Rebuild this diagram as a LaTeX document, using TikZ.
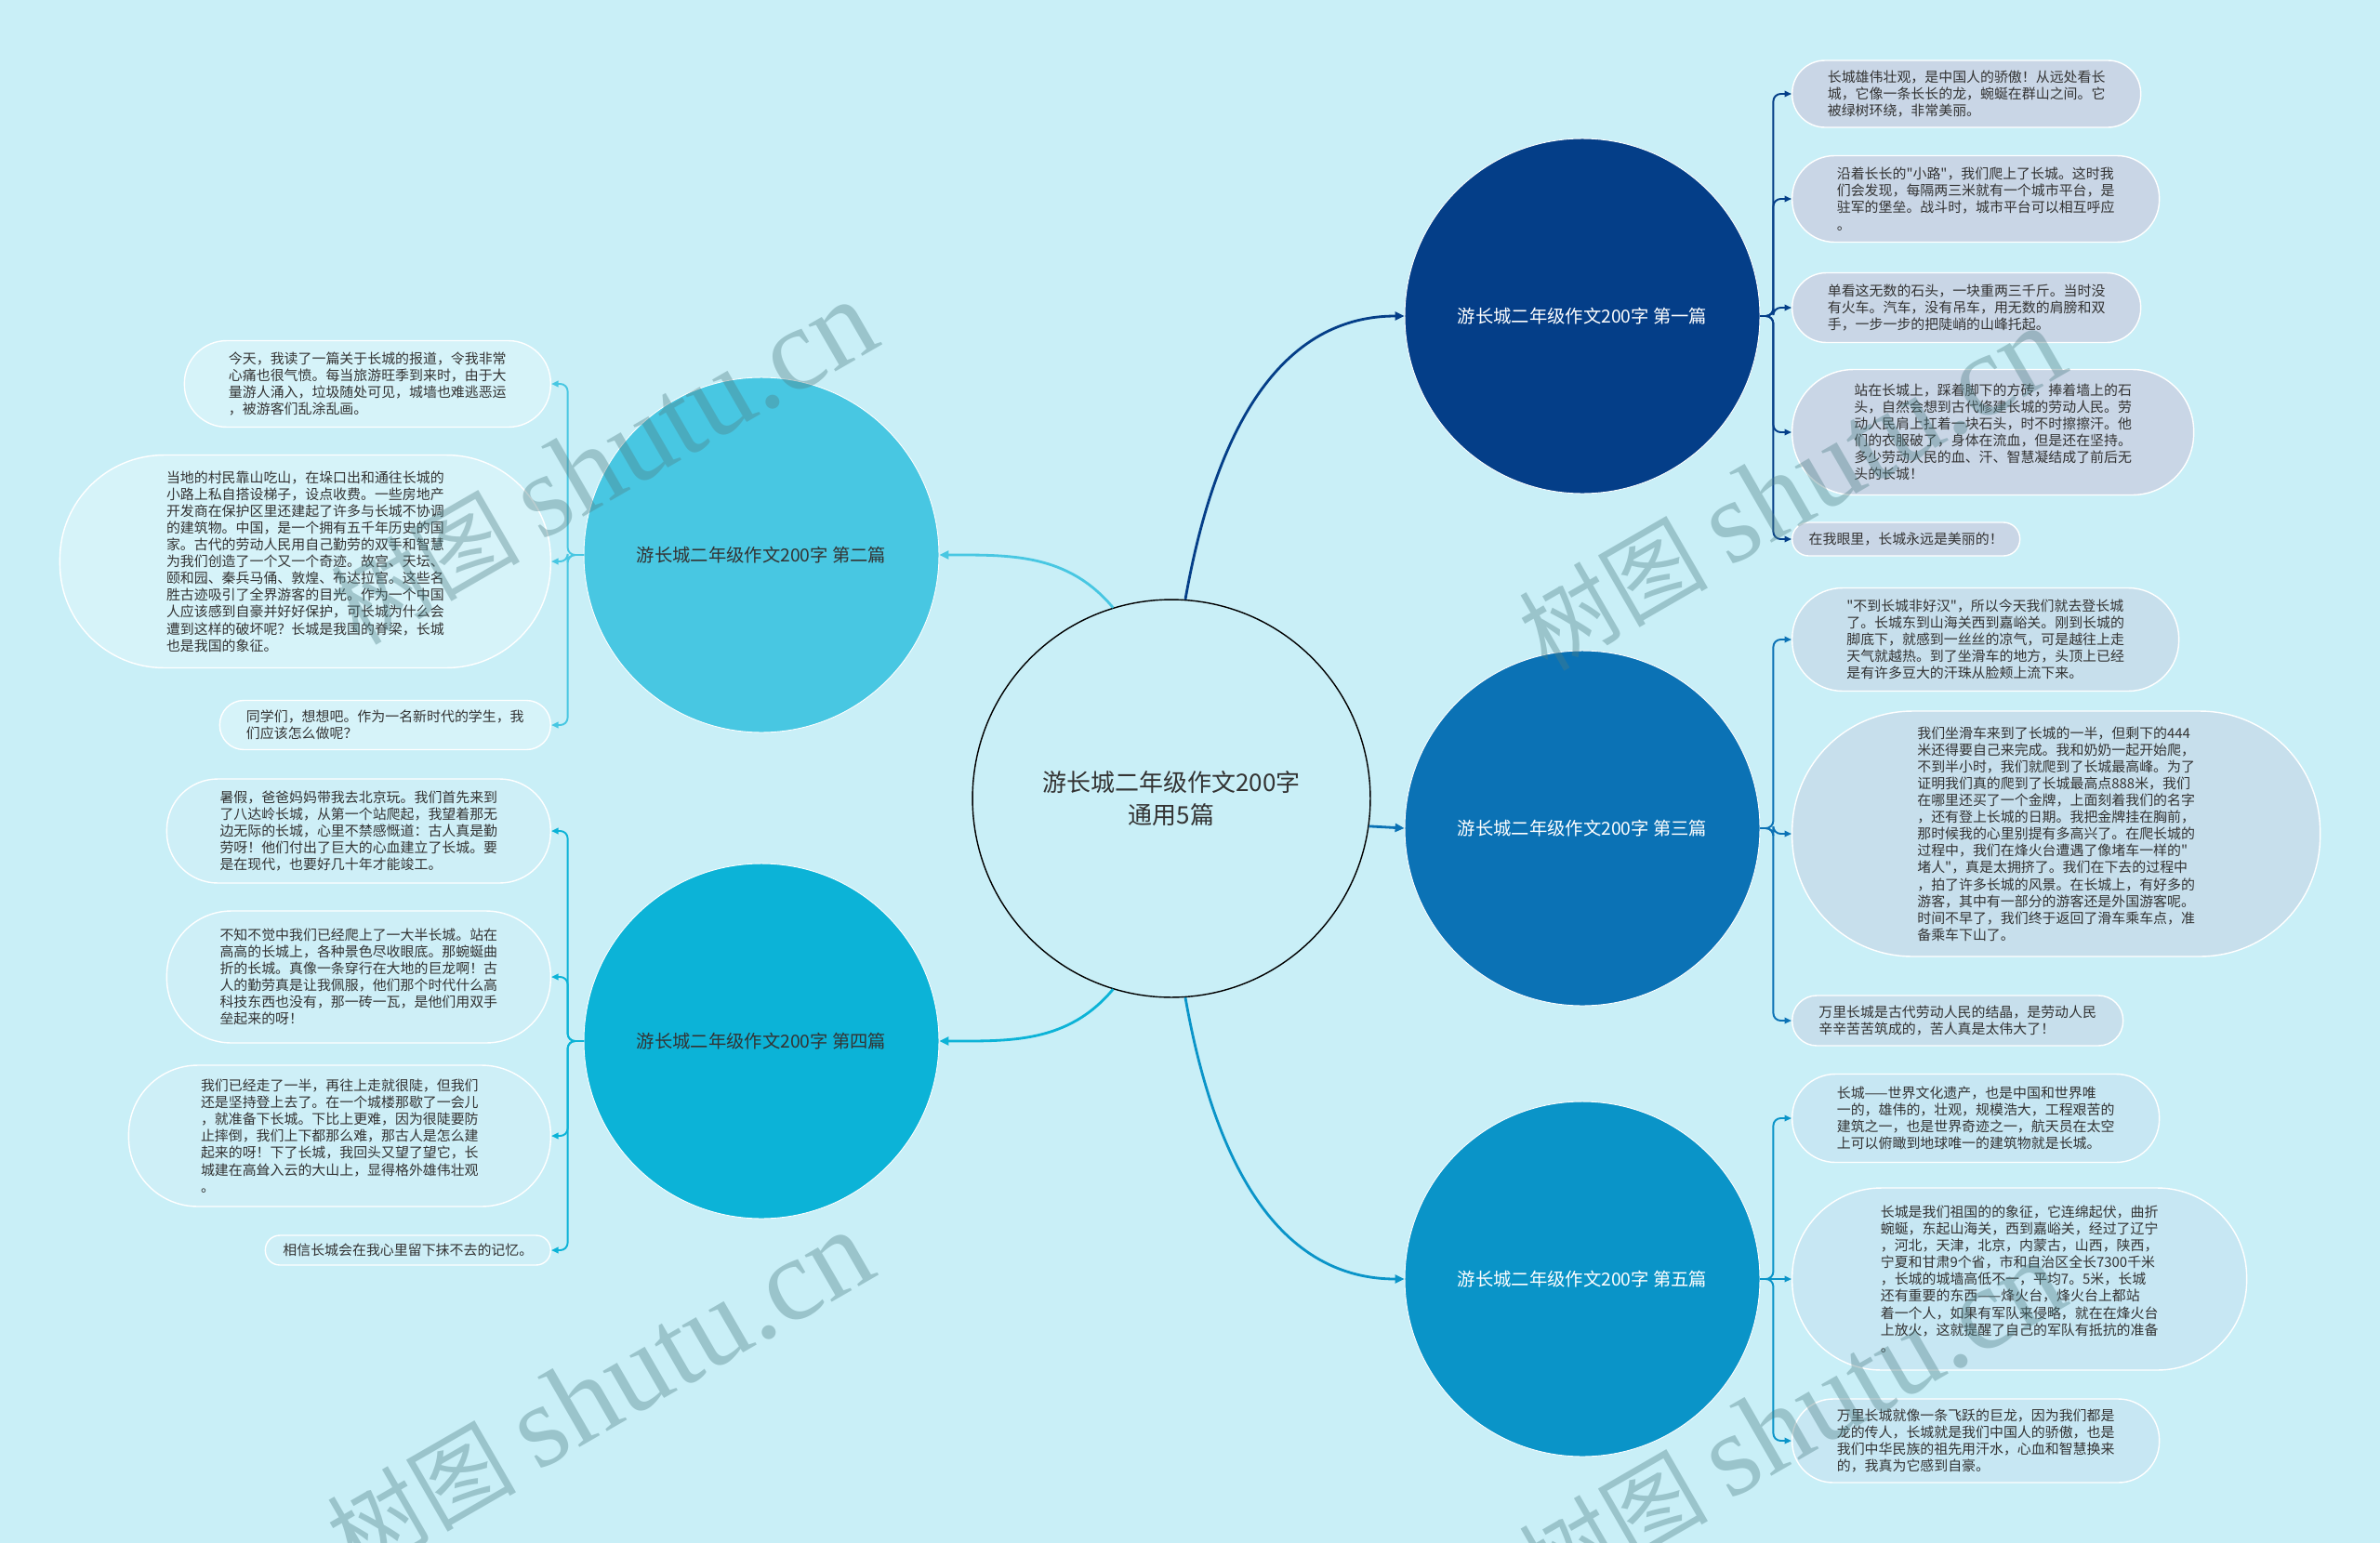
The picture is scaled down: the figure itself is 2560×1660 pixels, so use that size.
\documentclass[tikz,border=0pt]{standalone}
\usepackage{fontspec}
\setmainfont{Noto Sans CJK SC}[Ligatures=TeXOff]
\newfontfamily\wmlatin{Liberation Serif}
\usepackage{xcolor}
\definecolor{cBg}{HTML}{C9EFF7}
\definecolor{cText}{HTML}{333333}
\definecolor{cTopA}{HTML}{043E88}
\definecolor{cTopB}{HTML}{48C7E2}
\definecolor{cTopC}{HTML}{0B72B5}
\definecolor{cTopD}{HTML}{0CB3D7}
\definecolor{cTopE}{HTML}{0A94C8}
\definecolor{cLeafA}{HTML}{C9D6E6}
\definecolor{cLeafB}{HTML}{D6F3F9}
\definecolor{cLeafC}{HTML}{C7DFEC}
\definecolor{cLeafD}{HTML}{CEEFF7}
\definecolor{cLeafE}{HTML}{C7E7F3}
\definecolor{cMark}{HTML}{4F7F85}
\usepackage{tikz}
\usetikzlibrary{positioning,arrows.meta}
\tikzset{
  node-root/.style={circle,draw=black,line width=0.8pt,fill=cBg,minimum size=8.56cm,
    align=center,text=cText,font=\fontsize{14.8}{19.5}\selectfont},
  node-topic/.style={circle,draw=white,line width=0.5pt,minimum size=7.64cm,
    align=center,font=\fontsize{11}{13}\selectfont},
  % 叶子: 宽, 高 (cm), 两端做成半圆
  node-leaf/.style 2 args={draw=white,line width=0.8pt,inner sep=0pt,align=left,
    minimum width=#1cm,minimum height=#2cm,rounded corners=#2*0.49cm,
    text=cText,font=\fontsize{8.5}{10.3}\selectfont},
  arrow/.style={-{Triangle[length=2mm,width=1.8mm]},line width=1.6pt},
  arrow-leaf/.style={-{Triangle[length=1.5mm,width=1.3mm]},line width=1.1pt,
    rounded corners=1.6mm},
  watermark/.style={text=cMark,opacity=0.38,rotate=30,font=\fontsize{58}{58}\selectfont},
}

\begin{document}
\begin{tikzpicture}[x=0.02cm,y=-0.02cm]
  \fill[cBg] (0,0) rectangle (2560,1660);
  \useasboundingbox (0,0) rectangle (2560,1660);

  \node[node-root] (c0) at (1260,859) {游长城二年级作文200字\\通用5篇};
  \node[node-topic,fill=cTopA,text=white] (c1) at (1702,340) {游长城二年级作文200字 第一篇};
  \node[node-topic,fill=cTopB,text=cText] (c2) at (819,597) {游长城二年级作文200字 第二篇};
  \node[node-topic,fill=cTopC,text=white] (c3) at (1702,891) {游长城二年级作文200字 第三篇};
  \node[node-topic,fill=cTopD,text=cText] (c4) at (819,1120) {游长城二年级作文200字 第四篇};
  \node[node-topic,fill=cTopE,text=white] (c5) at (1702,1376) {游长城二年级作文200字 第五篇};

  \draw[arrow,cTopA] (c0.86) to[out=80,in=180] (c1.west);
  \draw[arrow,cTopC] (c0.-8.5) -- (c3.west);
  \draw[arrow,cTopE] (c0.-86) to[out=-80,in=180] (c5.west);
  \draw[arrow,cTopB] (c0.107) to[out=130,in=0] (c2.east);
  \draw[arrow,cTopD] (c0.-107) to[out=-130,in=0] (c4.east);

  % 第一篇
  \node[node-leaf={7.5}{1.44},fill=cLeafA,anchor=west] (r1a) at (1927,101) {%
长城雄伟壮观，是中国人的骄傲！从远处看长\\
城，它像一条长长的龙，蜿蜒在群山之间。它\\
被绿树环绕，非常美丽。};
  \node[node-leaf={7.9}{1.86},fill=cLeafA,anchor=west] (r1b) at (1927,214) {%
沿着长长的"小路"，我们爬上了长城。这时我\\
们会发现，每隔两三米就有一个城市平台，是\\
驻军的堡垒。战斗时，城市平台可以相互呼应\\
。};
  \node[node-leaf={7.5}{1.5},fill=cLeafA,anchor=west] (r1c) at (1927,331) {%
单看这无数的石头，一块重两三千斤。当时没\\
有火车。汽车，没有吊车，用无数的肩膀和双\\
手，一步一步的把陡峭的山峰托起。};
  \node[node-leaf={8.64}{2.7},fill=cLeafA,anchor=west] (r1d) at (1927,465) {%
站在长城上，踩着脚下的方砖，捧着墙上的石\\
头，自然会想到古代修建长城的劳动人民。劳\\
动人民肩上扛着一块石头，时不时擦擦汗。他\\
们的衣服破了，身体在流血，但是还在坚持。\\
多少劳动人民的血、汗、智慧凝结成了前后无\\
头的长城！};
  \node[node-leaf={4.9}{0.72},fill=cLeafA,anchor=west] (r1e) at (1927,580) {在我眼里，长城永远是美丽的！};

  % 第三篇
  \node[node-leaf={8.32}{2.22},fill=cLeafC,anchor=west] (r3a) at (1927,688) {%
"不到长城非好汉"，所以今天我们就去登长城\\
了。长城东到山海关西到嘉峪关。刚到长城的\\
脚底下，就感到一丝丝的凉气，可是越往上走\\
天气就越热。到了坐滑车的地方，头顶上已经\\
是有许多豆大的汗珠从脸颊上流下来。};
  \node[node-leaf={11.36}{5.28},fill=cLeafC,anchor=west] (r3b) at (1927,897) {%
我们坐滑车来到了长城的一半，但剩下的444\\
米还得要自己来完成。我和奶奶一起开始爬，\\
不到半小时，我们就爬到了长城最高峰。为了\\
证明我们真的爬到了长城最高点888米，我们\\
在哪里还买了一个金牌，上面刻着我们的名字\\
，还有登上长城的日期。我把金牌挂在胸前，\\
那时候我的心里别提有多高兴了。在爬长城的\\
过程中，我们在烽火台遭遇了像堵车一样的"\\
堵人"，真是太拥挤了。我们在下去的过程中\\
，拍了许多长城的风景。在长城上，有好多的\\
游客，其中有一部分的游客还是外国游客呢。\\
时间不早了，我们终于返回了滑车乘车点，准\\
备乘车下山了。};
  \node[node-leaf={7.12}{1.08},fill=cLeafC,anchor=west] (r3c) at (1927,1098) {%
万里长城是古代劳动人民的结晶，是劳动人民\\
辛辛苦苦筑成的，苦人真是太伟大了！};

  % 第五篇
  \node[node-leaf={7.9}{1.9},fill=cLeafE,anchor=west] (r5a) at (1927,1203) {%
长城——世界文化遗产，也是中国和世界唯\\
一的，雄伟的，壮观，规模浩大，工程艰苦的\\
建筑之一，也是世界奇迹之一，航天员在太空\\
上可以俯瞰到地球唯一的建筑物就是长城。};
  \node[node-leaf={9.78}{3.92},fill=cLeafE,anchor=west] (r5b) at (1927,1376) {%
长城是我们祖国的的象征，它连绵起伏，曲折\\
蜿蜒，东起山海关，西到嘉峪关，经过了辽宁\\
，河北，天津，北京，内蒙古，山西，陕西，\\
宁夏和甘肃9个省，市和自治区全长7300千米\\
，长城的城墙高低不一，平均7。5米，长城\\
还有重要的东西——烽火台，烽火台上都站\\
着一个人，如果有军队来侵略，就在在烽火台\\
上放火，这就提醒了自己的军队有抵抗的准备\\
。};
  \node[node-leaf={7.9}{1.8},fill=cLeafE,anchor=west] (r5c) at (1927,1550) {%
万里长城就像一条飞跃的巨龙，因为我们都是\\
龙的传人，长城就是我们中国人的骄傲，也是\\
我们中华民族的祖先用汗水，心血和智慧换来\\
的，我真为它感到自豪。};

  % 第二篇
  \node[node-leaf={7.88}{1.86},fill=cLeafB,anchor=east] (l2a) at (593,413) {%
今天，我读了一篇关于长城的报道，令我非常\\
心痛也很气愤。每当旅游旺季到来时，由于大\\
量游人涌入，垃圾随处可见，城墙也难逃恶运\\
，被游客们乱涂乱画。};
  \node[node-leaf={10.56}{4.58},fill=cLeafB,anchor=east] (l2b) at (593,604) {%
当地的村民靠山吃山，在垛口出和通往长城的\\
小路上私自搭设梯子，设点收费。一些房地产\\
开发商在保护区里还建起了许多与长城不协调\\
的建筑物。中国，是一个拥有五千年历史的国\\
家。古代的劳动人民用自己勤劳的双手和智慧\\
为我们创造了一个又一个奇迹。故宫、天坛、\\
颐和园、秦兵马俑、敦煌、布达拉宫。这些名\\
胜古迹吸引了全界游客的目光。作为一个中国\\
人应该感到自豪并好好保护，可长城为什么会\\
遭到这样的破坏呢？长城是我国的脊梁，长城\\
也是我国的象征。};
  \node[node-leaf={7.12}{1.06},fill=cLeafB,anchor=east] (l2c) at (593,780) {%
同学们，想想吧。作为一名新时代的学生，我\\
们应该怎么做呢？};

  % 第四篇
  \node[node-leaf={8.26}{2.24},fill=cLeafD,anchor=east] (l4a) at (593,894) {%
暑假，爸爸妈妈带我去北京玩。我们首先来到\\
了八达岭长城，从第一个站爬起，我望着那无\\
边无际的长城，心里不禁感慨道：古人真是勤\\
劳呀！他们付出了巨大的心血建立了长城。要\\
是在现代，也要好几十年才能竣工。};
  \node[node-leaf={8.26}{2.84},fill=cLeafD,anchor=east] (l4b) at (593,1051) {%
不知不觉中我们已经爬上了一大半长城。站在\\
高高的长城上，各种景色尽收眼底。那蜿蜒曲\\
折的长城。真像一条穿行在大地的巨龙啊！古\\
人的勤劳真是让我佩服，他们那个时代什么高\\
科技东西也没有，那一砖一瓦，是他们用双手\\
垒起来的呀！};
  \node[node-leaf={9.08}{3.04},fill=cLeafD,anchor=east] (l4c) at (593,1222) {%
我们已经走了一半，再往上走就很陡，但我们\\
还是坚持登上去了。在一个城楼那歇了一会儿\\
，就准备下长城。下比上更难，因为很陡要防\\
止摔倒，我们上下都那么难，那古人是怎么建\\
起来的呀！下了长城，我回头又望了望它，长\\
城建在高耸入云的大山上，显得格外雄伟壮观\\
。};
  \node[node-leaf={6.14}{0.64},fill=cLeafD,anchor=east] (l4d) at (593,1345) {相信长城会在我心里留下抹不去的记忆。};

  \draw[arrow-leaf,cTopA] (c1.east) -- ++(14,0) |- (r1a.west);
  \draw[arrow-leaf,cTopA] (c1.east) -- ++(14,0) |- (r1b.west);
  \draw[arrow-leaf,cTopA] (c1.east) -- ++(14,0) |- (r1c.west);
  \draw[arrow-leaf,cTopA] (c1.east) -- ++(14,0) |- (r1d.west);
  \draw[arrow-leaf,cTopA] (c1.east) -- ++(14,0) |- (r1e.west);
  \draw[arrow-leaf,cTopC] (c3.east) -- ++(14,0) |- (r3a.west);
  \draw[arrow-leaf,cTopC] (c3.east) -- ++(14,0) |- (r3b.west);
  \draw[arrow-leaf,cTopC] (c3.east) -- ++(14,0) |- (r3c.west);
  \draw[arrow-leaf,cTopE] (c5.east) -- ++(14,0) |- (r5a.west);
  \draw[arrow-leaf,cTopE] (c5.east) -- (r5b.west);
  \draw[arrow-leaf,cTopE] (c5.east) -- ++(14,0) |- (r5c.west);
  \draw[arrow-leaf,cTopB] (c2.west) -- ++(-17,0) |- (l2a.east);
  \draw[arrow-leaf,cTopB] (c2.west) -- ++(-17,0) |- (l2b.east);
  \draw[arrow-leaf,cTopB] (c2.west) -- ++(-17,0) |- (l2c.east);
  \draw[arrow-leaf,cTopD] (c4.west) -- ++(-17,0) |- (l4a.east);
  \draw[arrow-leaf,cTopD] (c4.west) -- ++(-17,0) |- (l4b.east);
  \draw[arrow-leaf,cTopD] (c4.west) -- ++(-17,0) |- (l4c.east);
  \draw[arrow-leaf,cTopD] (c4.west) -- ++(-17,0) |- (l4d.east);

  \begin{scope}
    \clip (0,0) rectangle (2560,1660);
    \node[watermark] (wm1) at (649,498) {树图 {\wmlatin\fontsize{72}{72}\selectfont shutu.cn}};
    \node[watermark] (wm2) at (1927,526) {树图 {\wmlatin\fontsize{72}{72}\selectfont shutu.cn}};
    \node[watermark] (wm3) at (645,1499) {树图 {\wmlatin\fontsize{72}{72}\selectfont shutu.cn}};
    \node[watermark] (wm4) at (1927,1530) {树图 {\wmlatin\fontsize{72}{72}\selectfont shutu.cn}};
  \end{scope}
\end{tikzpicture}
\end{document}
